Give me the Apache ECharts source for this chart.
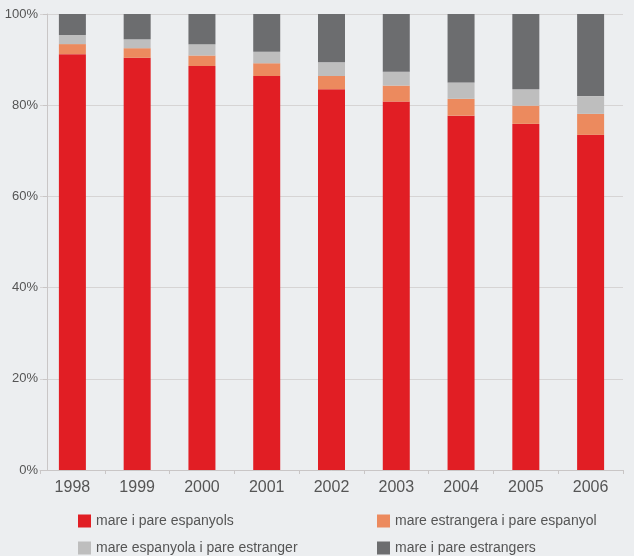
<!DOCTYPE html>
<html>
<head>
<meta charset="utf-8">
<script src="https://cdn.jsdelivr.net/npm/echarts@6/dist/echarts.min.js"></script>
<style>
html,body{margin:0;padding:0;background:#eceef0;}
#c{width:634px;height:556px;}
</style>
</head>
<body>
<div id="c"></div>
<script>
const years = ['1998','1999','2000','2001','2002','2003','2004','2005','2006'];
const espanyols = [91.2, 90.4, 88.6, 86.4, 83.5, 80.8, 77.7, 75.9, 73.5];
const mareEstrangera = [2.2, 2.1, 2.3, 2.8, 2.9, 3.5, 3.7, 4.0, 4.6];
const pareEstranger = [2.0, 1.95, 2.45, 2.5, 3.0, 3.05, 3.6, 3.6, 3.9];
const estrangers = [4.6, 5.55, 6.65, 8.3, 10.6, 12.65, 15.0, 16.5, 18.0];
const yTicks = [0, 20, 40, 60, 80, 100];

const names = ['mare i pare espanyols','mare estrangera i pare espanyol','mare espanyola i pare estranger','mare i pare estrangers'];
const colors = ['#e11e24','#ec8a5e','#bebebe','#6c6d6f'];
const dataSets = [espanyols, mareEstrangera, pareEstranger, estrangers];

const legendPos = [[78,514],[377,514],[78,541],[377,541]];
const chart = echarts.init(document.getElementById('c'));
chart.setOption({
  backgroundColor: '#eceef0',
  animation: false,
  textStyle: {fontFamily: 'Liberation Sans, Arial, sans-serif'},
  grid: {left: 40, right: 11, top: 14, bottom: 86},
  legend: names.map((n, i) => ({
    data: [n], left: legendPos[i][0], top: legendPos[i][1], padding: 0,
    icon: 'rect', itemWidth: 13, itemHeight: 13, itemGap: 5,
    textStyle: {fontSize: 14, color: '#555', fontFamily: 'Liberation Sans, Arial, sans-serif'}
  })),
  xAxis: {
    type: 'category', data: years,
    axisLine: {lineStyle: {color: '#c9c6c6'}},
    axisTick: {show: true, length: 4, lineStyle: {color: '#c9c6c6'}},
    axisLabel: {fontSize: 16, color: '#555', margin: 10}
  },
  yAxis: {
    type: 'value', min: 0, max: 100, interval: 20, offset: -7,
    axisLine: {show: true, lineStyle: {color: '#c9c6c6'}},
    axisTick: {show: true, length: 4, lineStyle: {color: '#c9c6c6'}},
    axisLabel: {fontSize: 13, color: '#555', margin: 9,
      formatter: v => yTicks.includes(v) ? v + '%' : ''},
    splitLine: {show: true, lineStyle: {color: '#d6d4d4'}}
  },
  series: names.map((n, i) => ({
    name: n, type: 'bar', stack: 'total', barWidth: 27,
    itemStyle: {color: colors[i]},
    data: dataSets[i]
  }))
});
</script>
</body>
</html>
